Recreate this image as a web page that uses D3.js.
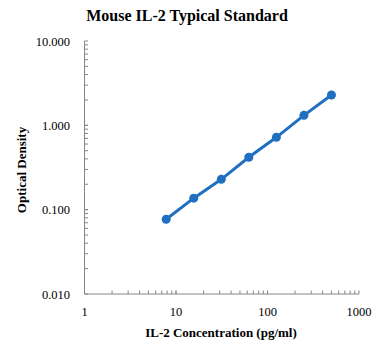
<!DOCTYPE html>
<html><head><meta charset="utf-8">
<script src="https://cdn.jsdelivr.net/npm/d3@7"></script>
<style>body{margin:0;background:#fff}svg{display:block}</style>
</head><body>
<script>
const concentrations = [7.8125, 15.625, 31.25, 62.5, 125, 250, 500];
const opticalDensity = [0.077, 0.137, 0.229, 0.418, 0.721, 1.314, 2.29];
const xTickValues = [1, 10, 100, 1000];
const yTickValues = [0.01, 0.1, 1, 10];
const yTickLabels = ["0.010", "0.100", "1.000", "10.000"];
const title = "Mouse IL-2 Typical Standard";
const xTitle = "IL-2 Concentration (pg/ml)";
const yTitle = "Optical Density";

const W = 386, H = 350;
const svg = d3.select("body").append("svg").attr("width", W).attr("height", H);
const x = d3.scaleLog().domain([1, 1000]).range([84.5, 359]);
const y = d3.scaleLog().domain([0.01, 10]).range([294, 41]);
const axisColor = "#868686";
const serif = "'Liberation Serif','Times New Roman',serif";

// minor ticks
const xMinor = [], yMinor = [];
for (let d = 1; d < 1000; d *= 10) for (let k = 1; k <= 10; k++) xMinor.push(d * k);
for (let d = 0.01; d < 10; d *= 10) for (let k = 1; k <= 10; k++) yMinor.push(+(d * k).toPrecision(3));

const g = svg.append("g");
g.selectAll(".xt").data(xMinor).join("line")
  .attr("x1", d => x(d)).attr("x2", d => x(d)).attr("y1", y(0.01)).attr("y2", y(0.01) - 3.5)
  .attr("stroke", axisColor).attr("stroke-width", 1);
g.selectAll(".yt").data(yMinor).join("line")
  .attr("y1", d => y(d)).attr("y2", d => y(d)).attr("x1", x(1)).attr("x2", x(1) + 3.5)
  .attr("stroke", axisColor).attr("stroke-width", 1);
// axis lines
g.append("line").attr("x1", x(1)).attr("x2", x(1000)).attr("y1", y(0.01)).attr("y2", y(0.01))
  .attr("stroke", axisColor).attr("stroke-width", 1);
g.append("line").attr("x1", x(1)).attr("x2", x(1)).attr("y1", y(0.01)).attr("y2", y(10))
  .attr("stroke", axisColor).attr("stroke-width", 1);

// tick labels
svg.selectAll(".xl").data(xTickValues).join("text")
  .attr("x", d => x(d)).attr("y", 316).attr("text-anchor", "middle")
  .attr("font-family", serif).attr("font-size", 12.5).attr("fill", "#000").text(d => d);
svg.selectAll(".yl").data(yTickValues).join("text")
  .attr("x", 70).attr("y", d => y(d) + 4.5).attr("text-anchor", "end")
  .attr("font-family", serif).attr("font-size", 12.5).attr("fill", "#000").text((d, i) => yTickLabels[i]);

// titles
svg.append("text").attr("x", 187).attr("y", 21).attr("text-anchor", "middle")
  .attr("font-family", serif).attr("font-weight", "bold").attr("font-size", 16).text(title);
svg.append("text").attr("x", 221).attr("y", 337).attr("text-anchor", "middle")
  .attr("font-family", serif).attr("font-weight", "bold").attr("font-size", 13).text(xTitle);
svg.append("text").attr("transform", "translate(26,170) rotate(-90)").attr("text-anchor", "middle")
  .attr("font-family", serif).attr("font-weight", "bold").attr("font-size", 13).text(yTitle);

// series
const pts = concentrations.map((c, i) => [c, opticalDensity[i]]);
const blue = "#1f70c1";
svg.append("path").datum(pts)
  .attr("d", d3.line().x(d => x(d[0])).y(d => y(d[1])))
  .attr("fill", "none").attr("stroke", blue).attr("stroke-width", 3).attr("stroke-linecap", "round");
svg.selectAll(".pt").data(pts).join("circle")
  .attr("cx", d => x(d[0])).attr("cy", d => y(d[1])).attr("r", 4.5).attr("fill", blue);
</script>
</body></html>
